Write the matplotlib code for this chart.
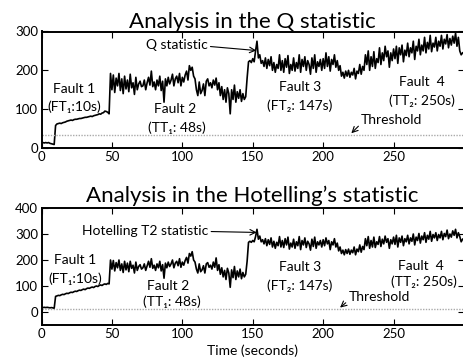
import matplotlib
matplotlib.use("Agg")
import matplotlib.pyplot as plt
import numpy as np

plt.rcParams['font.family'] = ['Lato', 'Noto Sans', 'DejaVu Sans']

# -------------------------------
# data (one value per second)
# -------------------------------
q_stat = [
    13, 14, 13, 14, 13, 14, 12, 11, 10, 9,
    58, 62, 63, 64, 63, 65, 66, 67, 69, 70,
    71, 72, 71, 73, 74, 74, 75, 76, 76, 77,
    78, 79, 79, 80, 81, 82, 81, 83, 84, 85,
    86, 88, 87, 90, 91, 95, 94, 92, 88, 192,
    150, 188, 143, 180, 160, 192, 148, 178, 140, 185,
    152, 175, 145, 190, 155, 168, 138, 182, 150, 165,
    172, 158, 160, 175, 150, 168, 182, 162, 198, 158,
    170, 150, 175, 160, 185, 148, 172, 118, 178, 160,
    182, 165, 175, 190, 160, 178, 185, 168, 192, 160,
    182, 170, 188, 198, 175, 212, 200, 208, 185, 178,
    150, 135, 170, 140, 148, 165, 135, 172, 178, 160,
    168, 155, 175, 162, 180, 150, 168, 135, 158, 125,
    150, 118, 155, 140, 88, 150, 125, 162, 118, 145,
    128, 150, 120, 140, 125, 132, 180, 222, 225, 220,
    230, 222, 250, 275, 232, 240, 218, 225, 210, 232,
    205, 228, 212, 235, 200, 220, 195, 215, 205, 240,
    200, 225, 195, 230, 208, 238, 192, 215, 200, 232,
    198, 220, 205, 240, 195, 228, 210, 235, 200, 225,
    215, 190, 232, 205, 240, 195, 222, 210, 228, 200,
    230, 205, 245, 210, 235, 198, 228, 215, 240, 208,
    225, 200, 212, 185, 195, 180, 198, 185, 200, 182,
    195, 188, 205, 178, 198, 192, 215, 190, 210, 200,
    240, 215, 250, 200, 235, 210, 248, 205, 230, 220,
    258, 215, 245, 225, 262, 235, 250, 208, 245, 225,
    255, 230, 262, 218, 258, 240, 265, 222, 252, 238,
    270, 235, 258, 245, 275, 228, 262, 250, 280, 240,
    265, 250, 285, 245, 272, 255, 290, 248, 270, 260,
    285, 250, 275, 262, 290, 255, 280, 268, 292, 258,
    282, 265, 288, 270, 296, 262, 285, 250, 240, 245,
]

t2_stat = [
    18, 17, 18, 17, 18, 17, 16, 17, 16, 14,
    60, 62, 64, 63, 66, 68, 67, 70, 72, 71,
    74, 76, 75, 78, 80, 79, 82, 84, 83, 86,
    88, 86, 90, 92, 91, 94, 96, 94, 98, 100,
    98, 102, 104, 102, 106, 108, 106, 110, 108, 200,
    165, 198, 158, 190, 170, 200, 160, 185, 152, 195,
    162, 188, 155, 195, 168, 180, 150, 192, 160, 175,
    182, 165, 170, 185, 160, 178, 195, 172, 205, 168,
    180, 160, 185, 170, 195, 158, 182, 130, 188, 170,
    192, 175, 185, 200, 170, 188, 195, 178, 205, 172,
    192, 180, 198, 210, 188, 225, 215, 232, 200, 192,
    165, 150, 185, 155, 162, 178, 150, 185, 190, 172,
    180, 165, 192, 172, 208, 160, 182, 145, 170, 135,
    160, 125, 168, 150, 95, 162, 132, 175, 125, 158,
    135, 165, 128, 152, 135, 145, 195, 268, 272, 268,
    275, 270, 290, 318, 280, 292, 270, 278, 262, 282,
    255, 278, 260, 285, 250, 272, 245, 268, 255, 290,
    250, 275, 248, 282, 258, 288, 242, 265, 250, 280,
    245, 270, 255, 290, 240, 275, 258, 285, 248, 272,
    262, 238, 280, 252, 288, 245, 270, 258, 275, 250,
    278, 255, 285, 262, 275, 240, 270, 258, 282, 250,
    265, 235, 250, 225, 238, 220, 240, 225, 242, 222,
    238, 228, 250, 220, 242, 232, 258, 230, 252, 240,
    282, 255, 290, 245, 275, 250, 288, 248, 270, 260,
    290, 252, 280, 262, 292, 268, 282, 245, 278, 262,
    288, 260, 295, 250, 285, 268, 292, 255, 282, 270,
    295, 262, 285, 272, 300, 258, 288, 275, 302, 265,
    292, 278, 305, 268, 295, 280, 310, 272, 298, 285,
    305, 275, 298, 285, 310, 278, 302, 290, 315, 282,
    300, 288, 312, 295, 318, 285, 305, 290, 270, 280,
]

q_threshold = 33
t2_threshold = 11

time = np.arange(len(q_stat))

# -------------------------------
# figure
# -------------------------------
fig = plt.figure(figsize=(4.63, 3.61), dpi=100)
ax1 = fig.add_axes([41.5 / 463, 1 - 148 / 361, 422.5 / 463, 116.5 / 361])
ax2 = fig.add_axes([41.5 / 463, 1 - 325 / 361, 422.5 / 463, 117 / 361])


def style_axes(ax):
    for s in ax.spines.values():
        s.set_linewidth(1.4)
    ax.tick_params(direction='in', length=4, width=0.8, top=True, right=True,
                   labelsize=9.5, pad=2.5)
    ax.set_xlim(0, 300)
    ax.set_xticks([0, 50, 100, 150, 200, 250])


arrow = dict(arrowstyle='->', lw=0.8, color='black', shrinkA=0, shrinkB=0)
txt = dict(ha='center', va='center', fontsize=10)

# --- Q statistic ---
ax1.plot(time, q_stat, color='black', lw=1.2)
ax1.axhline(q_threshold, color='#aaaaaa', lw=1, ls=(0, (1, 1)))
style_axes(ax1)
ax1.set_ylim(0, 300)
ax1.set_yticks([0, 100, 200, 300])
ax1.set_title("Analysis in the Q statistic", fontsize=16, pad=2.5)

ax1.text(23, 152, "Fault 1", **txt)
ax1.text(23, 106, "(FT\u2081:10s)", **txt)
ax1.text(95, 100, "Fault 2", **txt)
ax1.text(96, 53, "(TT\u2081: 48s)", **txt)
ax1.text(183.6, 157, "Fault 3", **txt)
ax1.text(183.6, 108, "(FT\u2082: 147s)", **txt)
ax1.text(270, 169, "Fault  4", **txt)
ax1.text(270, 122, "(TT\u2082: 250s)", **txt)
ax1.annotate("Q statistic", xy=(152.5, 251), xytext=(118, 265),
             ha='right', va='center', fontsize=10,
             arrowprops=dict(arrow, relpos=(1, 0.4)))
ax1.annotate("Threshold", xy=(220, 38), xytext=(227, 71),
             ha='left', va='center', fontsize=10,
             arrowprops=dict(arrow, relpos=(0, 0.25)))

# --- Hotelling T2 statistic ---
ax2.plot(time, t2_stat, color='black', lw=1.2)
ax2.axhline(t2_threshold, color='#aaaaaa', lw=1, ls=(0, (1, 1)))
style_axes(ax2)
ax2.set_ylim(-50, 400)
ax2.set_yticks([0, 100, 200, 300, 400])
ax2.set_title("Analysis in the Hotelling\u2019s statistic", fontsize=16, pad=4.5)
ax2.set_xlabel("Time (seconds)", fontsize=10, labelpad=3)

ax2.text(23.8, 201, "Fault 1", **txt)
ax2.text(23.8, 129, "(FT\u2081:10s)", **txt)
ax2.text(90, 99, "Fault 2", **txt)
ax2.text(92.7, 38, "(TT\u2081: 48s)", **txt)
ax2.text(183.6, 172, "Fault 3", **txt)
ax2.text(183.6, 102, "(FT\u2082: 147s)", **txt)
ax2.text(269.4, 178, "Fault  4", **txt)
ax2.text(271.7, 118, "(TT\u2082: 250s)", **txt)
ax2.annotate("Hotelling T2 statistic", xy=(152.8, 306), xytext=(118.5, 312),
             ha='right', va='center', fontsize=10,
             arrowprops=dict(arrow, relpos=(1, 0.45)))
ax2.annotate("Threshold", xy=(212, 17), xytext=(218, 56),
             ha='left', va='center', fontsize=10,
             arrowprops=dict(arrow, relpos=(0, 0.25)))

fig.savefig("out.png", dpi=100)
